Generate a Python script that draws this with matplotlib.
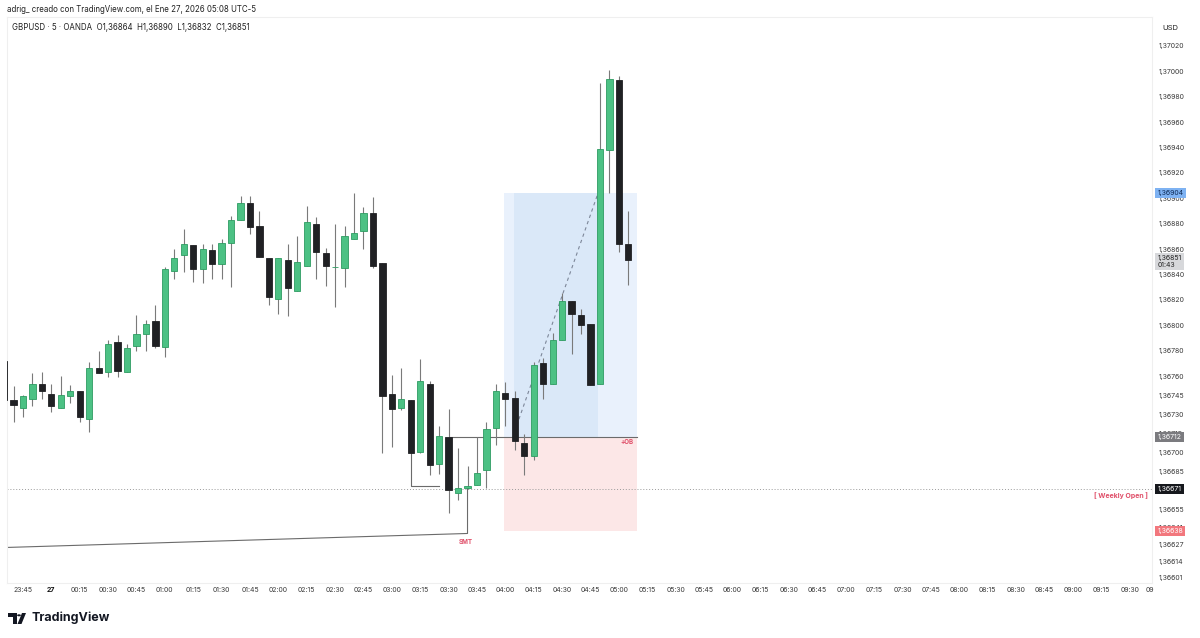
import matplotlib
matplotlib.use("Agg")
import matplotlib.pyplot as plt
import matplotlib.transforms as mtransforms
from matplotlib.patches import Rectangle, Polygon, Circle
import numpy as np

plt.rcParams['font.family'] = ['Inter', 'DejaVu Sans']

# GBPUSD 5 min candles, first candle 23:35 (26 Jan), last 05:05 (27 Jan)
opens = [1.36772, 1.36741, 1.36735, 1.36742, 1.36754, 1.36746, 1.36735, 1.36744, 1.36748,
         1.36726, 1.36766, 1.36763, 1.36787, 1.36763, 1.36784, 1.36793, 1.36803, 1.36783,
         1.36843, 1.36855, 1.36863, 1.36844, 1.36859, 1.36848, 1.36865, 1.36883, 1.36896,
         1.36878, 1.36853, 1.36821, 1.36851, 1.36827, 1.36847, 1.36880, 1.36857, 1.36846,
         1.36845, 1.36868, 1.36874, 1.36888, 1.36849, 1.36746, 1.36735, 1.36741, 1.36700,
         1.36754, 1.36691, 1.36712, 1.36668, 1.36672, 1.36674, 1.36686, 1.36719, 1.36747,
         1.36743, 1.36707, 1.36697, 1.36770, 1.36754, 1.36788, 1.36819, 1.36808, 1.36801,
         1.36754, 1.36938, 1.36993, 1.36864]
highs = [1.36775, 1.36752, 1.36745, 1.36762, 1.36763, 1.36754, 1.36760, 1.36753, 1.36748,
         1.36771, 1.36780, 1.36788, 1.36792, 1.36785, 1.36808, 1.36804, 1.36816, 1.36846,
         1.36860, 1.36876, 1.36863, 1.36864, 1.36864, 1.36868, 1.36886, 1.36902, 1.36902,
         1.36890, 1.36853, 1.36853, 1.36864, 1.36870, 1.36894, 1.36885, 1.36861, 1.36880,
         1.36878, 1.36904, 1.36893, 1.36901, 1.36849, 1.36761, 1.36766, 1.36741, 1.36773,
         1.36756, 1.36721, 1.36734, 1.36703, 1.36689, 1.36712, 1.36724, 1.36754, 1.36755,
         1.36748, 1.36714, 1.36771, 1.36774, 1.36794, 1.36825, 1.36819, 1.36813, 1.36801,
         1.36991, 1.37001, 1.36996, 1.36890]
lows = [1.36738, 1.36724, 1.36728, 1.36736, 1.36742, 1.36732, 1.36735, 1.36739, 1.36724,
        1.36716, 1.36762, 1.36759, 1.36759, 1.36763, 1.36780, 1.36780, 1.36782, 1.36775,
        1.36836, 1.36842, 1.36834, 1.36833, 1.36836, 1.36836, 1.36830, 1.36883, 1.36872,
        1.36854, 1.36816, 1.36809, 1.36807, 1.36827, 1.36847, 1.36836, 1.36831, 1.36814,
        1.36830, 1.36868, 1.36860, 1.36845, 1.36699, 1.36704, 1.36733, 1.36699, 1.36699,
        1.36682, 1.36683, 1.36652, 1.36662, 1.36671, 1.36674, 1.36672, 1.36706, 1.36721,
        1.36702, 1.36682, 1.36694, 1.36742, 1.36754, 1.36788, 1.36777, 1.36793, 1.36753,
        1.36754, 1.36904, 1.36858, 1.36832]
closes = [1.36741, 1.36737, 1.36744, 1.36754, 1.36748, 1.36736, 1.36745, 1.36748, 1.36728,
          1.36766, 1.36762, 1.36785, 1.36764, 1.36782, 1.36793, 1.36801, 1.36784, 1.36844,
          1.36853, 1.36864, 1.36844, 1.36860, 1.36848, 1.36865, 1.36883, 1.36896, 1.36877,
          1.36854, 1.36822, 1.36853, 1.36829, 1.36850, 1.36881, 1.36858, 1.36847, 1.36846,
          1.36870, 1.36873, 1.36888, 1.36847, 1.36744, 1.36734, 1.36742, 1.36699, 1.36756,
          1.36690, 1.36713, 1.36670, 1.36672, 1.36673, 1.36684, 1.36718, 1.36748, 1.36742,
          1.36709, 1.36697, 1.36769, 1.36754, 1.36788, 1.36819, 1.36809, 1.36800, 1.36753,
          1.36939, 1.36994, 1.36864, 1.36851]

# price axis ticks as shown by TradingView (1,36670 sits under the weekly open label)
price_ticks = [1.37020, 1.37000, 1.36980, 1.36960, 1.36940, 1.36920, 1.36900, 1.36880,
               1.36860, 1.36840, 1.36820, 1.36800, 1.36780, 1.36760, 1.36745, 1.36730,
               1.36715, 1.36700, 1.36685, 1.36655, 1.36641, 1.36627, 1.36614, 1.36601]
time_ticks = ['23:45', '00:00', '00:15', '00:30', '00:45', '01:00', '01:15', '01:30', '01:45',
              '02:00', '02:15', '02:30', '02:45', '03:00', '03:15', '03:30', '03:45', '04:00',
              '04:15', '04:30', '04:45', '05:00', '05:15', '05:30', '05:45', '06:00', '06:15',
              '06:30', '06:45', '07:00', '07:15', '07:30', '07:45', '08:00', '08:15', '08:30',
              '08:45', '09:00', '09:15', '09:30']

# levels from the drawings
target = 1.36904
entry = 1.36712
stop = 1.36638
weekly_open = 1.36671


def t(hhmm):
    # bar index of a time, first candle (23:35) = 0
    hh, mm = map(int, hhmm.split(':'))
    mins = hh * 60 + mm
    if hh >= 12:
        mins -= 24 * 60
    return (mins + 25) / 5.0


def fmt(v):
    return f"{v:.5f}".replace('.', ',')


W, H = 1200, 638
fig = plt.figure(figsize=(W / 100, H / 100), dpi=100)
fig.patch.set_facecolor('white')


def px(x, y):
    return x / W, 1 - y / H


ax = fig.add_axes([7 / W, 1 - 583 / H, 1145 / W, 566 / H])
ax.set_xlim(0.31, 121.37)
ax.set_ylim(1.365970, 1.370427)

x = np.arange(len(opens))
o, h, l, c = map(np.array, (opens, highs, lows, closes))
up = c >= o

# position tool (long)
x0, x1 = t('04:00') - 0.1, t('05:05') + 0.9
ax.add_patch(Rectangle((x0, entry), x1 - x0, target - entry, fc='#e9f1fc', ec='none', zorder=1))
ax.add_patch(Rectangle((t('04:05') - 0.1, entry), t('04:50') - t('04:05') - 0.1, target - entry,
                       fc='#dae8f8', ec='none', zorder=1))
ax.add_patch(Rectangle((x0, stop), x1 - x0, entry - stop, fc='#fce7e7', ec='none', zorder=1))
ax.plot([t('04:05') + 0.2, t('04:50') - 0.2], [1.36721, target], color='#7d8799',
        lw=0.8, ls=(0, (3, 3)), zorder=2)

# order block line
ax.plot([t('03:30'), x1], [entry, entry], color='#6b6b6b', lw=0.8, zorder=2)
ax.text(x1 - 0.3, entry - 0.00002, '+OB', color='#e0506a', fontsize=4.5, fontweight='bold',
        ha='right', va='top', zorder=5)

# weekly open
ax.axhline(weekly_open, color='#9a9a9a', lw=0.7, ls=(0, (1, 2)), zorder=2)
ax.text(t('09:40') - 0.05, weekly_open - 0.000025, '[ Weekly Open ]', color='#e0506a',
        fontsize=5, fontweight='bold', ha='right', va='top', zorder=5)

# SMT line and bracket
ax.plot([0.33, t('03:40'), t('03:40')], [1.36625, 1.36636, 1.36672], color='#6b6b6b',
        lw=0.8, zorder=2)
ax.text(t('03:35') + 0.8, 1.36632, 'SMT', color='#e0506a', fontsize=4.5, fontweight='bold',
        ha='center', va='top', zorder=5)
ax.plot([t('03:10'), t('03:10'), t('03:25')], [1.36699, 1.36673, 1.36673], color='#6b6b6b',
        lw=0.8, zorder=2)

# candles
ax.vlines(x, l, h, color='#7a7a7a', lw=0.8, zorder=3)
ax.bar(x[up], (c - o)[up], bottom=o[up], width=0.66, color='#4cc184', edgecolor='#2e9c62',
       lw=0.6, zorder=4)
ax.bar(x[~up], (c - o)[~up], bottom=o[~up], width=0.66, color='#202124', edgecolor='#202124',
       lw=0.6, zorder=4)

# axes styling
for s in ax.spines.values():
    s.set_color('#efefef')
    s.set_linewidth(0.8)
ax.yaxis.tick_right()
ax.set_yticks(price_ticks)
ax.set_yticklabels([fmt(v) for v in price_ticks])
ax.tick_params(axis='y', length=0, pad=5, labelsize=5, labelcolor='#3a3a3a')
ax.set_xticks([t(s) for s in time_ticks])
ax.set_xticklabels(['27' if s == '00:00' else s for s in time_ticks])
ax.tick_params(axis='x', length=0, pad=3, labelsize=5, labelcolor='#3a3a3a')
for lab in ax.get_xticklabels():
    if lab.get_text() == '27':
        lab.set_fontweight('bold')
        lab.set_color('#111111')
fig.text(1150 / W, 1 - 590 / H, '09', fontsize=5, color='#3a3a3a', va='center', ha='center')

# price labels on the scale
bt = mtransforms.blended_transform_factory(ax.transAxes, ax.transData)
labels = [(target, fmt(target), '#7eb2f2', '#0d2a55'),
          (entry, fmt(entry), '#7b7b7f', 'white'),
          (weekly_open, fmt(weekly_open), '#16181d', 'white'),
          (stop, fmt(stop), '#f2777d', 'white')]
for v, txt, bg, fg in labels:
    ax.annotate(txt, xy=(1.0, v), xycoords=bt, xytext=(4, 0), textcoords='offset points',
                fontsize=5, color=fg, va='center', ha='left', annotation_clip=False,
                bbox=dict(boxstyle='square,pad=0.3', fc=bg, ec='none'), zorder=6)
ax.annotate(fmt(closes[-1]) + '\n01:43', xy=(1.0, closes[-1]), xycoords=bt, xytext=(4, 4),
            textcoords='offset points', fontsize=5, color='#222222', va='top', ha='left',
            linespacing=1.2, annotation_clip=False,
            bbox=dict(boxstyle='square,pad=0.3', fc='#d7d8db', ec='none'), zorder=6)

# header
fig.text(*px(7, 10), 'adrig_ creado con TradingView.com, el Ene 27, 2026 05:08 UTC-5',
         fontsize=5.7, color='#222222', va='center')
fig.text(*px(12, 28), f"GBPUSD · 5 · OANDA  O{fmt(opens[-1])}  H{fmt(highs[-1])}  "
         f"L{fmt(lows[-1])}  C{fmt(closes[-1])}", fontsize=5.7, color='#222222', va='center')
fig.text(*px(1170, 28), 'USD', fontsize=5.5, color='#222222', va='center', ha='center')

# footer logo
logo = [(7.5, 613), (16.5, 613), (16.5, 624), (12.8, 624), (12.8, 617), (7.5, 617)]
fig.patches.append(Polygon([px(*p) for p in logo], closed=True, fc='#131722', ec='none',
                           transform=fig.transFigure, figure=fig))
fig.patches.append(Polygon([px(*p) for p in [(17.5, 624), (21.5, 624), (26, 613), (22, 613)]],
                           closed=True, fc='#131722', ec='none', transform=fig.transFigure,
                           figure=fig))
fig.patches.append(Circle(px(19, 615.3), 1.9 / W, fc='#131722', ec='none',
                          transform=fig.transFigure, figure=fig))
fig.text(*px(32, 618), 'TradingView', fontsize=9, fontweight='bold', color='#131722',
         va='center')

fig.savefig('out.png', dpi=100)
